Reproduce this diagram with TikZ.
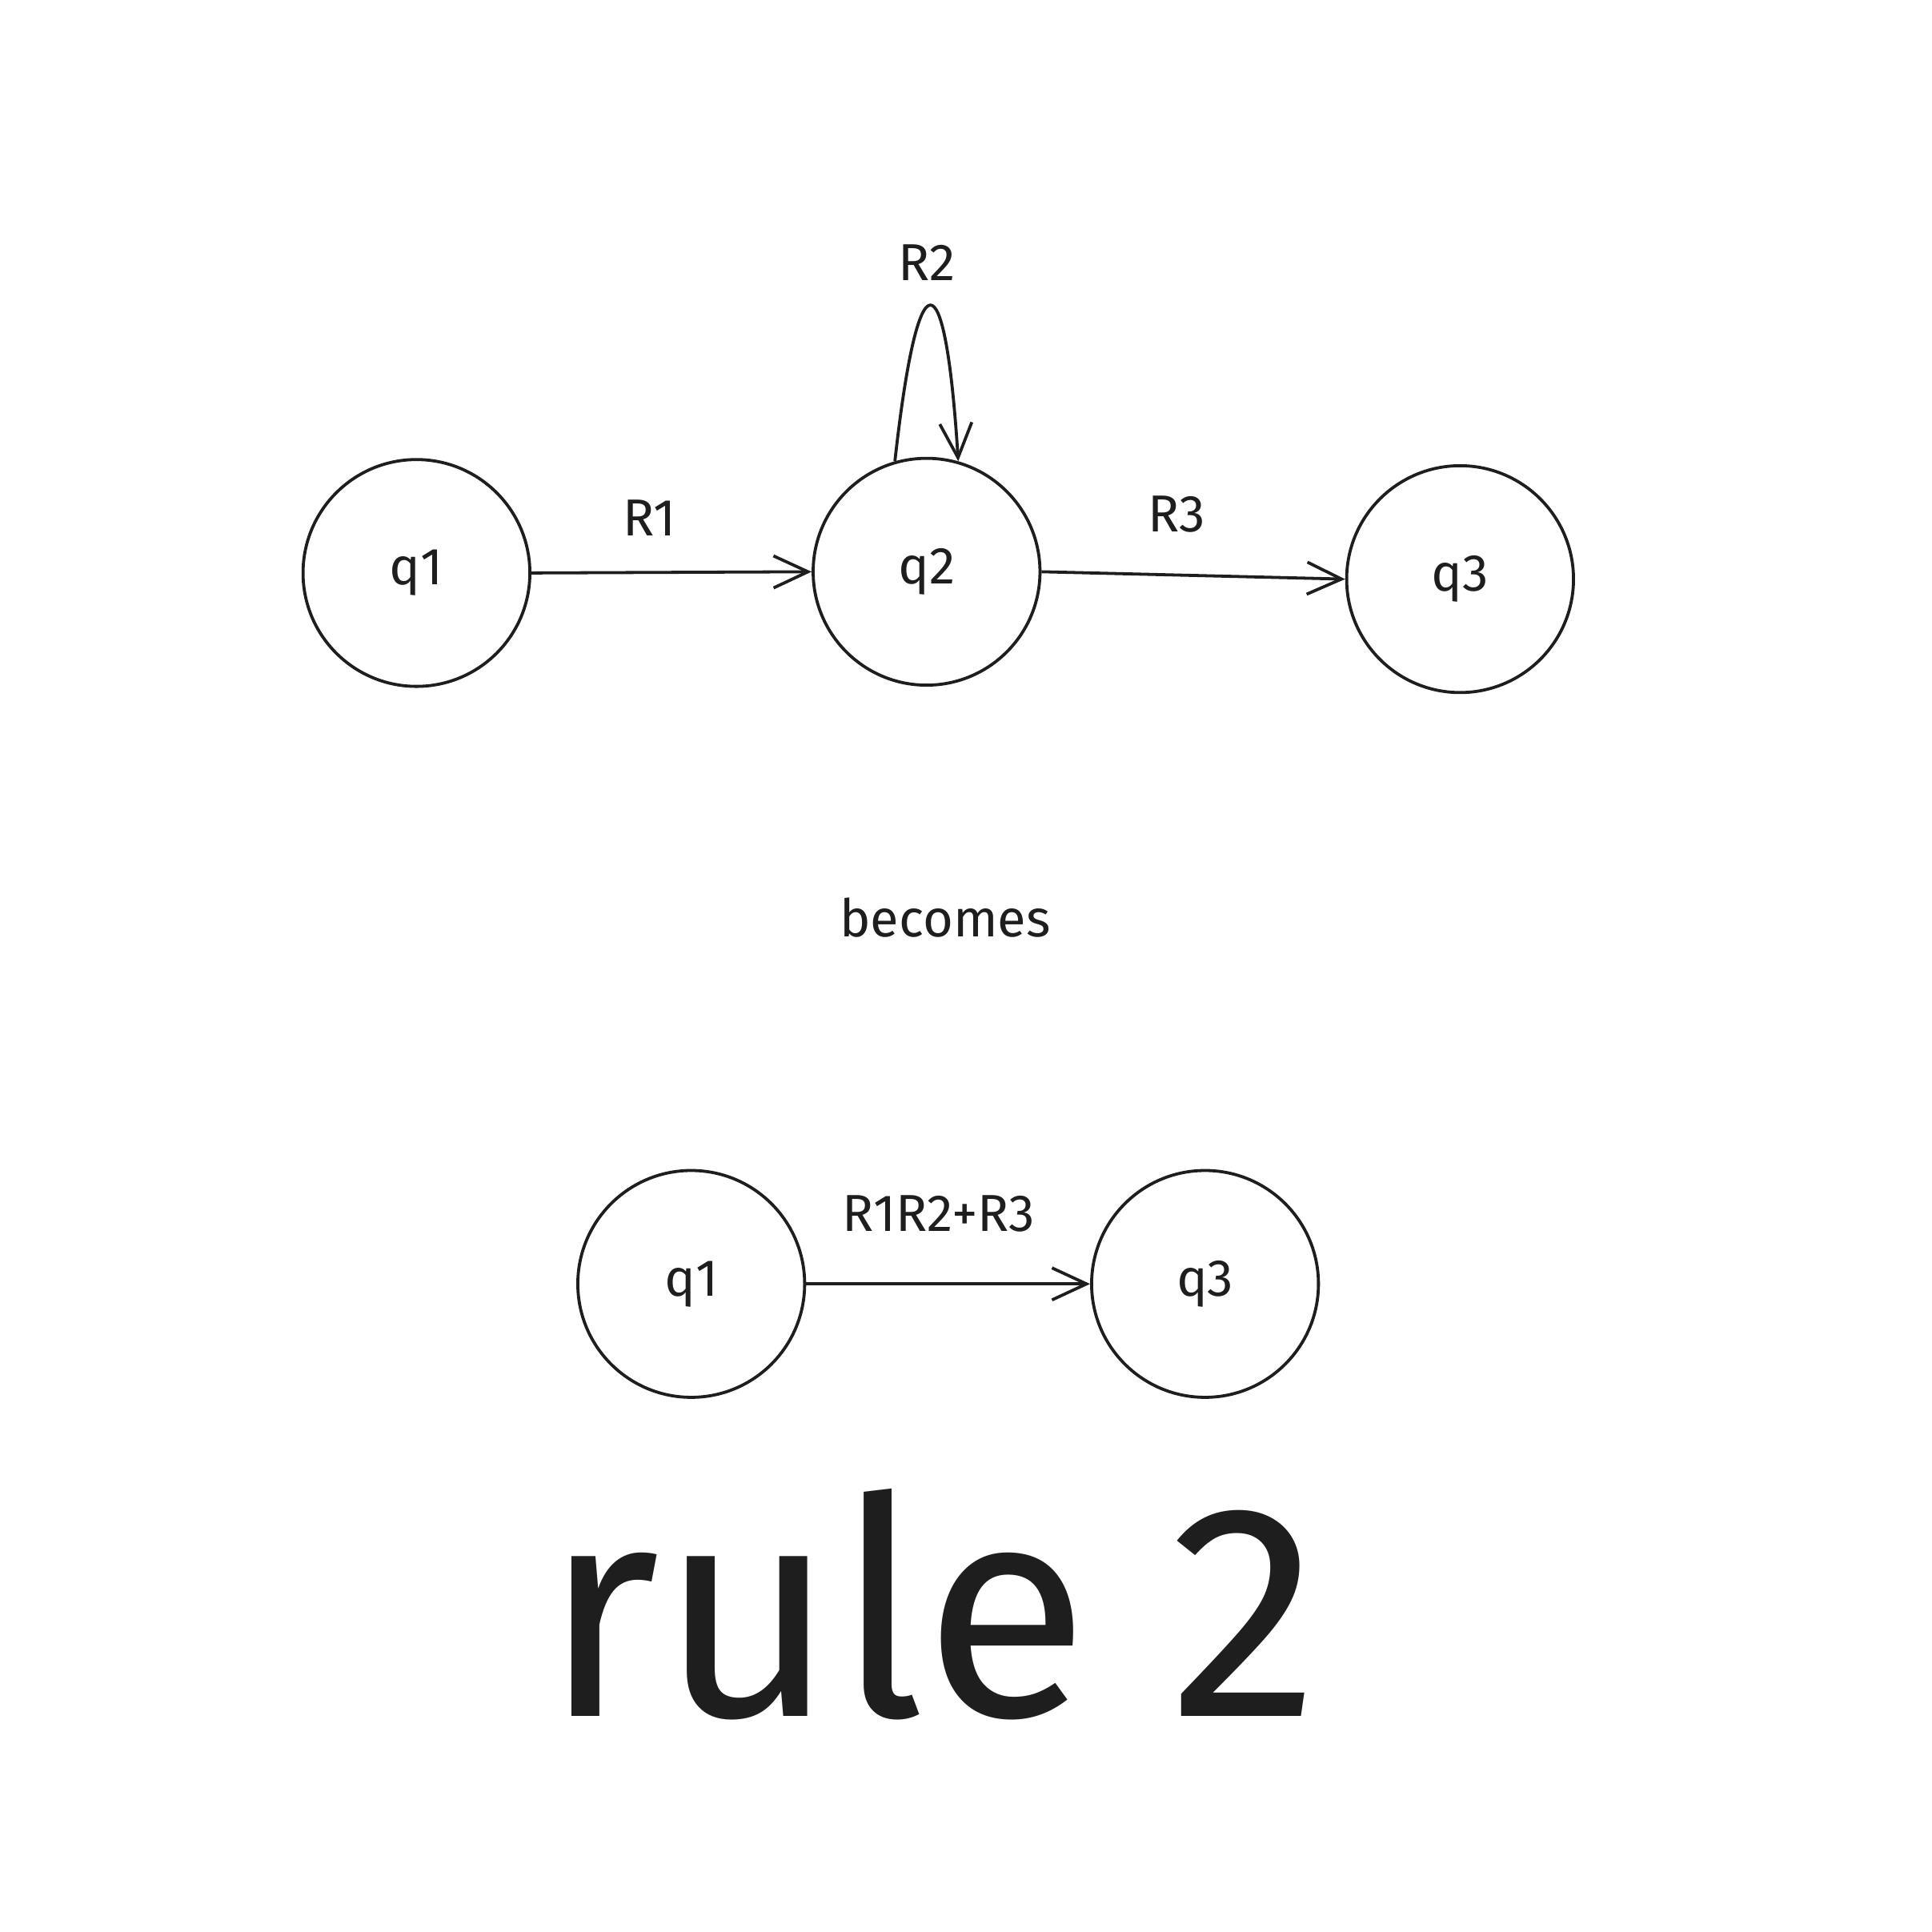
\documentclass[tikz,border=0pt]{standalone}
\usepackage{fontspec}
\setmainfont{Fira Sans}
\usetikzlibrary{arrows.meta}
\definecolor{ink}{HTML}{1E1E1E}

\tikzset{
  state/.style={circle, draw=ink, line width=0.7pt, minimum size=1.84cm, inner sep=0pt, font=\large, text=ink},
  lbl/.style={font=\large, text=ink, inner sep=1pt},
  trans/.style={-{Straight Barb[length=2.8mm, width=2.6mm, line width=0.7pt]}, draw=ink, line width=0.7pt}
}

\begin{document}
\begin{tikzpicture}[x=0.01cm, y=-0.01cm]
    \useasboundingbox (0,0) rectangle (1568,1568);

    % Top automaton: q1 -> q2 (loop) -> q3
    \node[state] (q1) at (338,465) {q1};
    \node[state] (q2) at (752,464) {q2};
    \node[state] (q3) at (1185,470) {q3};

    \draw[trans] (q1.east) -- (q2.west);
    \draw[trans] (q2.east) -- (q3.west);
    \draw[trans] (q2.106) .. controls (745,206) and (767,206) .. (q2.74);

    \node[lbl] (r1) at (527,420) {R1};
    \node[lbl] (r2) at (752,213) {R2};
    \node[lbl] (r3) at (955,417) {R3};

    \node[lbl] (becomes) at (767,745) {becomes};

    % Bottom automaton: q1 -> q3
    \node[state] (p1) at (561,1042) {q1};
    \node[state] (p3) at (978,1042) {q3};

    \draw[trans] (p1.east) -- (p3.west);
    \node[lbl] (r123) at (762,985) {R1R2+R3};

    % Title
    \node[font=\fontsize{70}{76}\selectfont, text=ink] (title) at (756,1302) {rule 2};
\end{tikzpicture}
\end{document}
